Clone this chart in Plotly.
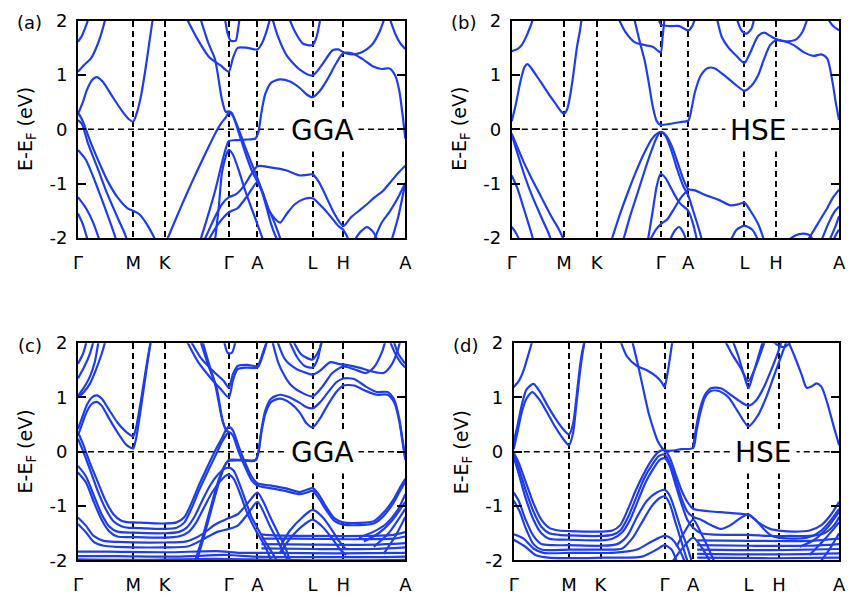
import plotly.graph_objects as go

# ---------------- data ----------------
kpath_labels = ["Γ", "M", "K", "Γ", "A", "L", "H", "A"]
kticks_a = [0, 56, 88, 153, 182, 238, 269, 332]
kticks_b = [0, 53, 86, 151, 179, 236, 268, 332]
kticks_c = [0, 56, 88, 153, 182, 238, 269, 332]
kticks_d = [0, 56, 88, 153, 182, 238, 269, 330]
energy_ticks = [-2, -1, 0, 1, 2]
energy_labels = ["-2", "-1", "0", "1", "2"]
panel_tags = ["(a)", "(b)", "(c)", "(d)"]
method_tags = ["GGA", "HSE", "GGA", "HSE"]

bands_a = [
    [(0,1.61),(4,1.72),(8,1.9),(11,2.05)],
    [(0,1.06),(6,1.18),(13,1.3),(19,1.52),(24,1.78),(28,2.05)],
    [(0,0.28),(5,0.5),(9,0.72),(14,0.9),(19,0.96),(25,0.88),(35,0.6),(45,0.33),(52,0.18),(56,0.14),(60,0.32),(64,0.62),(68,1.05),(72,1.55),(76,2.05)],
    [(110,2.05),(120,1.7),(133,1.33),(145,1.17),(153,1.06),(157,1.3),(162,1.5),(172,1.5),(182,1.47),(187,1.6),(192,1.85),(195,2.05)],
    [(149,2.05),(152,1.75),(155,1.63),(160,1.63),(162,1.8),(164,2.05)],
    [(124,2.05),(132,1.6),(139,1.29),(146,0.55),(150,0.32),(153,0.33),(156,0.3),(162,0.0),(170,-0.45),(176,-0.75),(182,-0.97),(186,-1.12),(191,-1.42),(196,-1.75),(200,-1.95),(203,-2.05)],
    [(124,-2.05),(130,-1.7),(139,-1.14),(146,-0.62),(150,-0.35),(153,-0.22),(160,-0.2),(170,-0.19),(180,-0.17),(183,-0.05),(186,0.3),(190,0.65),(196,0.86),(205,0.92),(215,0.88),(225,0.76),(232,0.64),(238,0.59),(245,0.7),(253,0.92),(262,1.22),(269,1.4),(278,1.4),(288,1.3),(300,1.15),(308,1.11),(316,1.12),(322,0.98),(326,0.7),(329,0.3),(332,-0.17)],
    [(197,2.05),(203,1.7),(212,1.35),(225,1.1),(238,0.99),(248,1.2),(258,1.45),(264,1.47),(269,1.42),(278,1.38),(288,1.42),(298,1.55),(306,1.8),(311,2.05)],
    [(214,2.05),(220,1.8),(228,1.58),(238,1.55),(242,1.7),(246,2.05)],
    [(316,2.05),(322,1.75),(327,1.58),(332,1.48)],
    [(0,0.3),(3,0.22),(6,0.1),(12,-0.2),(20,-0.55),(30,-0.95),(40,-1.25),(50,-1.45),(56,-1.5),(62,-1.56),(70,-1.75),(79,-2.05)],
    [(0,0.17),(4,0.1),(10,-0.25),(20,-0.72),(30,-1.2),(40,-1.62),(47,-1.9),(50,-2.05)],
    [(0,-0.38),(8,-0.56),(16,-0.9),(26,-1.38),(34,-1.78),(39,-2.05)],
    [(0,-1.25),(8,-1.45),(15,-1.7),(22,-2.05)],
    [(0,-1.55),(5,-1.75),(10,-2.05)],
    [(90,-2.05),(100,-1.62),(110,-1.2),(120,-0.8),(130,-0.42),(140,-0.05),(146,0.13),(150,0.22),(153,0.31),(157,0.25),(162,0.05),(168,-0.25),(175,-0.58),(182,-0.9),(188,-1.2),(194,-1.5),(200,-1.65),(205,-1.72),(212,-1.55),(220,-1.38),(230,-1.28),(238,-1.27),(246,-1.4),(256,-1.6),(264,-1.78),(269,-1.85),(275,-2.05)],
    [(139,-2.05),(143,-1.4),(146,-0.8),(150,-0.5),(153,-0.38),(157,-0.46),(163,-0.75),(170,-1.15),(178,-1.55),(185,-1.9),(188,-2.05)],
    [(128,-2.05),(138,-1.65),(146,-1.38),(153,-1.25),(160,-1.2),(168,-1.05),(176,-0.82),(182,-0.68),(195,-0.7),(210,-0.75),(225,-0.85),(232,-0.84),(238,-0.83),(244,-0.96),(252,-1.25),(260,-1.55),(269,-1.78),(277,-1.62),(285,-1.5),(293,-1.38),(301,-1.25),(309,-1.14),(318,-0.95),(325,-0.8),(332,-0.67)],
    [(132,-2.05),(142,-1.75),(153,-1.53),(162,-1.45),(172,-1.22),(182,-0.97),(187,-1.15),(193,-1.45),(200,-1.75),(206,-2.05)],
    [(300,-2.05),(308,-1.72),(316,-1.52),(324,-1.28),(332,-0.99)],
    [(318,-2.05),(325,-1.6),(332,-0.99)],
    [(280,-2.05),(287,-1.88),(293,-1.8),(299,-1.88),(304,-2.05)],
]

bands_b = [
    [(0,1.44),(6,1.48),(10,1.55),(15,1.72),(19,1.9),(22,2.05)],
    [(0,0.15),(4,0.45),(9,0.9),(13,1.15),(16,1.2),(20,1.12),(29,0.88),(37,0.66),(44,0.48),(50,0.33),(53,0.29),(56,0.36),(59,0.6),(62,0.95),(66,1.5),(69,1.8),(71,2.05)],
    [(0,-0.08),(5,-0.3),(12,-0.6),(20,-0.9),(30,-1.25),(40,-1.6),(48,-1.85),(53,-2.05)],
    [(0,-0.1),(5,-0.4),(12,-0.8),(20,-1.2),(30,-1.62),(37,-1.9),(40,-2.05)],
    [(0,-0.85),(6,-1.1),(12,-1.45),(18,-1.8),(22,-2.05)],
    [(0,-1.8),(4,-1.9),(8,-2.05)],
    [(101,-2.05),(110,-1.55),(118,-1.15),(126,-0.78),(134,-0.45),(142,-0.18),(148,-0.07),(151,-0.05),(156,-0.12),(162,-0.4),(168,-0.75),(174,-1.05),(179,-1.22),(184,-1.5),(190,-1.85),(193,-2.05)],
    [(113,-2.05),(120,-1.6),(128,-1.15),(135,-0.75),(142,-0.38),(147,-0.15),(151,-0.05),(156,-0.1),(162,-0.3),(168,-0.6),(174,-0.92),(179,-1.1),(185,-1.12),(195,-1.2),(210,-1.3),(222,-1.4),(230,-1.38),(236,-1.35),(242,-1.5),(250,-1.75),(256,-2.05)],
    [(138,-2.05),(143,-1.5),(147,-1.05),(151,-0.82),(156,-0.9),(162,-1.1),(170,-1.35),(179,-1.5),(184,-1.75),(188,-2.05)],
    [(140,-2.05),(146,-1.85),(151,-1.75),(158,-1.65),(165,-1.45),(172,-1.25),(179,-1.11)],
    [(160,-2.05),(166,-1.85),(170,-1.8),(174,-1.9),(177,-2.05)],
    [(124,2.05),(130,1.6),(135,1.25),(139,0.85),(143,0.42),(147,0.15),(151,0.08),(160,0.1),(170,0.13),(179,0.16),(182,0.35),(186,0.7),(192,1.0),(199,1.13),(206,1.12),(215,1.0),(225,0.85),(236,0.71),(243,0.8),(250,1.0),(256,1.3),(262,1.55),(268,1.64),(276,1.62),(286,1.55),(296,1.42),(306,1.35),(314,1.38),(320,1.3),(325,0.9),(329,0.45),(332,0.17)],
    [(208,2.05),(213,1.7),(220,1.5),(228,1.35),(236,1.22),(242,1.42),(250,1.72),(256,1.78),(262,1.72),(268,1.66),(278,1.62),(288,1.65),(295,1.8),(300,2.05)],
    [(320,2.05),(326,1.9),(332,1.82)],
    [(228,2.05),(233,1.82),(238,1.76),(243,1.85),(246,2.05)],
    [(108,2.05),(115,1.8),(125,1.6),(135,1.55),(143,1.52),(148,1.45),(151,1.41),(153,1.7),(155,2.05)],
    [(149,2.05),(151,1.93),(160,1.9),(170,1.9),(179,1.82),(183,1.9),(186,2.05)],
    [(222,-2.05),(228,-1.85),(236,-1.78),(244,-1.85),(250,-2.05)],
    [(280,-2.05),(288,-1.95),(296,-1.92),(302,-1.95),(306,-2.05)],
    [(300,-2.05),(310,-1.75),(320,-1.45),(326,-1.25),(332,-1.11)],
    [(314,-2.05),(322,-1.7),(328,-1.5),(332,-1.42)],
    [(322,-2.05),(328,-1.8),(332,-1.6)],
    [(326,-2.05),(330,-1.9),(332,-1.85)],
]

bands_c = [
    [(0,1.62),(5,1.8),(9,2.05)],
    [(0,1.35),(6,1.55),(12,1.8),(16,2.05)],
    [(0,1.0),(6,1.1),(12,1.25),(18,1.5),(24,1.8),(28,2.05)],
    [(0,1.03),(6,1.18),(12,1.38),(17,1.65),(21,2.05)],
    [(0,0.42),(4,0.62),(9,0.86),(14,1.0),(19,1.04),(24,0.98),(32,0.76),(40,0.54),(48,0.38),(53,0.31),(56,0.28),(59,0.45),(63,0.85),(67,1.3),(71,1.75),(74,2.05)],
    [(0,0.3),(4,0.5),(9,0.74),(14,0.88),(19,0.92),(24,0.85),(32,0.6),(40,0.36),(48,0.15),(53,0.08),(56,0.06),(59,0.25),(63,0.7),(67,1.2),(71,1.7),(74,2.05)],
    [(124,2.05),(132,1.6),(139,1.25),(146,0.62),(150,0.42),(153,0.46)],
    [(126,2.05),(134,1.55),(141,1.15),(147,0.55),(151,0.38),(153,0.37)],
    [(110,2.05),(122,1.65),(135,1.35),(145,1.15),(153,1.0),(157,1.3),(162,1.52),(172,1.55),(182,1.55),(187,1.75),(192,2.05)],
    [(114,2.05),(125,1.72),(138,1.47),(148,1.3),(153,1.18),(157,1.42),(162,1.58),(172,1.6),(182,1.58),(188,1.85),(192,2.05)],
    [(148,2.05),(152,1.82),(156,1.82),(160,2.05)],
    [(118,-2.05),(126,-1.6),(135,-1.0),(143,-0.5),(149,-0.25),(153,-0.15),(165,-0.15),(180,-0.15),(183,-0.02),(186,0.35),(190,0.7),(196,0.92),(205,0.98),(215,0.9),(225,0.72),(232,0.52),(238,0.45),(245,0.6),(253,0.85),(262,1.1),(269,1.22),(280,1.22),(292,1.12),(303,1.05),(314,1.05),(321,0.9),(326,0.55),(329,0.2),(332,-0.15)],
    [(120,-2.05),(128,-1.55),(137,-0.95),(145,-0.45),(150,-0.22),(153,-0.17),(165,-0.16),(180,-0.16),(183,0.0),(186,0.4),(190,0.76),(196,0.98),(205,1.05),(215,1.0),(225,0.9),(232,0.82),(238,0.8),(245,0.9),(253,1.08),(262,1.28),(269,1.35),(280,1.34),(292,1.2),(303,1.1),(314,1.1),(321,0.95),(326,0.6),(329,0.25),(332,-0.12)],
    [(197,2.05),(204,1.6),(215,1.25),(228,1.08),(238,1.02),(248,1.2),(258,1.45),(269,1.57),(280,1.52),(292,1.45),(300,1.55),(308,1.82),(312,2.05)],
    [(202,2.05),(210,1.7),(222,1.52),(232,1.45),(238,1.42),(246,1.5),(256,1.65),(264,1.62),(272,1.6),(285,1.55),(298,1.48),(310,1.45),(318,1.6),(324,1.85),(327,2.05)],
    [(214,2.05),(222,1.75),(230,1.58),(238,1.55),(243,1.7),(247,2.05)],
    [(218,2.05),(226,1.8),(233,1.72),(238,1.7),(244,1.85),(248,2.05)],
    [(316,2.05),(322,1.8),(327,1.65),(332,1.55)],
    [(320,2.05),(325,1.8),(332,1.62)],
    [(0,0.36),(5,0.15),(12,-0.2),(20,-0.55),(28,-0.9),(36,-1.15),(44,-1.27),(52,-1.3),(56,-1.3),(70,-1.31),(88,-1.32),(100,-1.3),(108,-1.2),(115,-0.95),(123,-0.6),(132,-0.25),(140,0.05),(146,0.25),(150,0.4),(153,0.46),(157,0.4),(163,0.1),(170,-0.22),(176,-0.45),(182,-0.58),(195,-0.62),(210,-0.67),(225,-0.74),(232,-0.7),(238,-0.67),(244,-0.78),(252,-1.02),(260,-1.22),(269,-1.3),(285,-1.31),(300,-1.28),(310,-1.12),(320,-0.88),(326,-0.68),(332,-0.5)],
    [(0,0.24),(5,0.02),(12,-0.32),(20,-0.72),(28,-1.05),(36,-1.28),(44,-1.37),(52,-1.4),(56,-1.4),(70,-1.41),(88,-1.42),(100,-1.4),(108,-1.3),(115,-1.05),(123,-0.7),(132,-0.35),(140,-0.05),(146,0.18),(150,0.3),(153,0.36),(157,0.3),(163,0.0),(170,-0.3),(176,-0.52),(182,-0.62),(195,-0.67),(210,-0.72),(225,-0.78),(232,-0.75),(238,-0.72),(244,-0.85),(252,-1.08),(260,-1.27),(269,-1.34),(285,-1.35),(300,-1.32),(310,-1.18),(320,-0.94),(326,-0.74),(332,-0.55)],
    [(0,-0.26),(8,-0.45),(16,-0.8),(24,-1.15),(32,-1.38),(40,-1.47),(56,-1.49),(88,-1.5),(102,-1.48),(110,-1.4),(118,-1.2),(126,-0.9),(134,-0.62),(142,-0.42),(148,-0.32),(153,-0.29),(158,-0.35),(164,-0.6),(170,-0.9),(176,-1.2),(182,-1.4),(188,-1.6),(195,-1.8),(200,-1.95),(203,-2.05)],
    [(0,-0.38),(8,-0.56),(16,-0.92),(24,-1.25),(32,-1.47),(40,-1.56),(56,-1.57),(88,-1.58),(102,-1.56),(112,-1.48),(120,-1.3),(128,-1.02),(136,-0.75),(144,-0.55),(150,-0.44),(153,-0.42),(158,-0.5),(164,-0.75),(170,-1.05),(176,-1.3),(182,-1.5),(190,-1.75),(197,-2.05)],
    [(0,-1.21),(8,-1.36),(16,-1.55),(26,-1.64),(40,-1.66),(88,-1.67),(110,-1.65),(125,-1.53),(140,-1.33),(153,-1.22),(162,-1.15),(172,-0.95),(182,-0.75),(188,-0.92),(195,-1.2),(203,-1.5),(210,-1.75),(216,-2.05)],
    [(0,-1.33),(8,-1.48),(16,-1.66),(26,-1.73),(40,-1.75),(88,-1.76),(112,-1.74),(128,-1.6),(142,-1.47),(153,-1.42),(162,-1.36),(172,-1.15),(182,-0.92),(188,-1.1),(195,-1.38),(203,-1.65),(210,-1.9),(214,-2.05)],
    [(205,-1.75),(215,-1.45),(228,-1.2),(238,-1.07),(248,-1.2),(258,-1.45),(265,-1.65),(272,-1.8)],
    [(205,-1.85),(215,-1.6),(228,-1.36),(238,-1.25),(248,-1.38),(258,-1.6),(266,-1.8),(272,-1.9)],
    [(285,-1.58),(300,-1.47),(313,-1.32),(324,-1.08),(332,-0.78)],
    [(290,-1.65),(305,-1.5),(318,-1.28),(332,-0.92)],
    [(300,-1.75),(315,-1.5),(332,-1.05)],
    [(310,-1.88),(322,-1.55),(332,-1.2)],
    [(186,-1.52),(200,-1.54),(240,-1.55),(290,-1.55),(320,-1.53),(332,-1.48)],
    [(186,-1.6),(220,-1.6),(280,-1.61),(320,-1.6),(332,-1.56)],
    [(186,-1.7),(240,-1.71),(300,-1.71),(332,-1.68)],
    [(186,-1.78),(240,-1.79),(300,-1.79),(332,-1.76)],
    [(0,-1.84),(30,-1.84),(90,-1.85),(140,-1.83),(165,-1.86),(200,-1.86),(260,-1.87),(332,-1.86)],
    [(0,-1.92),(40,-1.92),(100,-1.93),(150,-1.9),(180,-1.93),(240,-1.94),(300,-1.94),(332,-1.93)],
    [(0,-1.98),(60,-1.99),(140,-1.97),(200,-1.99),(280,-2.0),(332,-1.99)],
]

bands_d = [
    [(0,1.19),(5,1.3),(10,1.5),(15,1.8),(19,2.05)],
    [(0,0.18),(4,0.5),(8,0.85),(13,1.15),(20,1.25),(26,1.12),(34,0.86),(42,0.62),(50,0.42),(56,0.32),(60,0.5),(63,0.9),(66,1.4),(69,1.8),(72,2.05)],
    [(0,0.05),(4,0.38),(8,0.72),(13,0.98),(19,1.1),(26,0.96),(34,0.72),(42,0.46),(50,0.24),(56,0.12),(60,0.33),(63,0.78),(66,1.28),(69,1.72),(72,2.05)],
    [(108,2.05),(115,1.75),(125,1.58),(135,1.5),(145,1.38),(150,1.28),(153,1.19),(156,1.45),(159,1.8),(161,2.05)],
    [(120,2.05),(126,1.6),(132,1.1),(137,0.7),(142,0.4),(146,0.2),(150,0.08),(153,0.03),(160,0.02),(170,0.05),(182,0.07),(185,0.35),(189,0.7),(194,1.0),(200,1.12),(208,1.12),(218,1.0),(228,0.72),(238,0.47),(248,0.68),(256,1.0),(262,1.3),(268,1.6),(273,1.85),(277,2.05)],
    [(182,0.1),(185,0.45),(189,0.8),(194,1.05),(200,1.17),(210,1.17),(220,1.05),(230,0.92),(238,0.85),(246,0.95),(254,1.2),(261,1.5),(267,1.78),(272,2.05)],
    [(222,2.05),(228,1.75),(234,1.38),(238,1.17),(242,1.38),(248,1.75),(253,2.05)],
    [(214,2.05),(222,1.78),(230,1.55),(238,1.3),(245,1.55),(252,1.9),(255,2.05)],
    [(278,2.05),(285,1.75),(292,1.42),(297,1.18),(302,1.2),(307,1.26),(312,1.2),(318,0.9),(324,0.5),(330,0.12)],
    [(262,2.05),(268,1.96),(275,1.93),(282,2.05)],
    [(0,-0.02),(5,-0.2),(12,-0.55),(20,-0.95),(28,-1.25),(36,-1.4),(46,-1.45),(56,-1.46),(88,-1.47),(100,-1.45),(108,-1.35),(116,-1.05),(124,-0.7),(132,-0.4),(140,-0.15),(147,0.0),(153,0.03),(158,-0.1),(164,-0.4),(170,-0.7),(176,-0.92),(182,-1.05),(190,-1.08),(200,-1.1),(215,-1.12),(228,-1.14),(238,-1.16),(248,-1.3),(260,-1.42),(269,-1.45),(285,-1.47),(300,-1.45),(312,-1.35),(322,-1.15),(330,-0.92)],
    [(0,-0.05),(5,-0.3),(12,-0.7),(20,-1.1),(28,-1.38),(36,-1.5),(46,-1.53),(56,-1.54),(88,-1.55),(100,-1.53),(108,-1.45),(116,-1.2),(124,-0.85),(132,-0.5),(140,-0.25),(147,-0.08),(153,-0.05),(158,-0.2),(164,-0.5),(170,-0.85),(176,-1.1),(182,-1.2),(190,-1.25),(200,-1.35),(210,-1.42),(220,-1.35),(230,-1.22),(238,-1.15),(245,-1.25),(255,-1.45),(262,-1.55),(269,-1.58),(285,-1.6),(300,-1.57),(312,-1.45),(322,-1.25),(330,-1.05)],
    [(0,-0.1),(5,-0.4),(12,-0.85),(20,-1.25),(28,-1.5),(36,-1.6),(56,-1.62),(88,-1.63),(100,-1.6),(110,-1.48),(118,-1.25),(126,-0.9),(134,-0.55),(142,-0.3),(148,-0.15),(153,-0.12),(158,-0.25),(164,-0.6),(170,-0.95),(176,-1.25),(182,-1.4),(190,-1.5),(200,-1.52),(220,-1.53),(238,-1.53),(260,-1.55),(280,-1.55),(300,-1.55),(315,-1.5),(325,-1.35),(330,-1.2)],
    [(0,-0.75),(5,-0.9),(12,-1.25),(20,-1.55),(28,-1.7),(40,-1.72),(56,-1.72),(88,-1.73),(105,-1.7),(115,-1.55),(125,-1.2),(135,-0.9),(145,-0.75),(153,-0.7),(158,-0.8),(164,-1.1),(170,-1.45),(176,-1.75),(181,-2.05)],
    [(0,-0.9),(6,-1.1),(12,-1.4),(20,-1.7),(28,-1.8),(56,-1.8),(88,-1.8),(110,-1.78),(120,-1.6),(130,-1.3),(140,-1.0),(148,-0.85),(153,-0.82),(158,-0.95),(164,-1.3),(170,-1.65),(175,-1.95),(177,-2.05)],
    [(0,-1.52),(10,-1.6),(20,-1.78),(30,-1.86),(60,-1.86),(100,-1.86),(125,-1.8),(140,-1.65),(153,-1.55),(160,-1.6),(168,-1.8),(174,-2.05)],
    [(0,-1.62),(12,-1.75),(22,-1.9),(35,-1.95),(90,-1.95),(130,-1.93),(145,-1.8),(153,-1.72),(160,-1.8),(166,-2.05)],
    [(165,-1.75),(174,-1.45),(182,-1.25),(190,-1.5),(198,-1.8),(204,-2.05)],
    [(160,-2.05),(170,-1.8),(182,-1.58),(192,-1.8),(200,-2.05)],
    [(186,-1.63),(240,-1.64),(300,-1.64),(330,-1.6)],
    [(186,-1.72),(240,-1.73),(300,-1.73),(330,-1.7)],
    [(186,-1.8),(260,-1.81),(330,-1.79)],
    [(186,-1.88),(260,-1.89),(330,-1.87)],
    [(186,-1.95),(260,-1.96),(330,-1.95)],
    [(290,-1.75),(305,-1.62),(318,-1.4),(330,-1.1)],
    [(300,-1.9),(315,-1.62),(330,-1.3)],
    [(310,-2.05),(320,-1.8),(330,-1.5)],
]

# ---------------- layout geometry ----------------
W, H = 854, 610
panels = [
    dict(bands=bands_a, ticks=kticks_a, x0=74, x1=406, y0=10, y1=235, lab_k=248),
    dict(bands=bands_b, ticks=kticks_b, x0=514, x1=846, y0=10, y1=235, lab_k=250),
    dict(bands=bands_c, ticks=kticks_c, x0=74, x1=406, y0=344, y1=569, lab_k=248),
    dict(bands=bands_d, ticks=kticks_d, x0=516, x1=846, y0=344, y1=569, lab_k=253),
]

BLUE = "#1f3ded"
FONT = "DejaVu Sans"
fig = go.Figure()
layout = dict(width=W, height=H, margin=dict(l=0, r=0, t=0, b=0),
              paper_bgcolor="white", plot_bgcolor="white", showlegend=False,
              font=dict(family=FONT, size=18, color="black"))
shapes, annotations = [], []

for i, p in enumerate(panels):
    n = "" if i == 0 else str(i + 1)
    xa, ya = "x" + n, "y" + n
    for band in p["bands"]:
        fig.add_trace(go.Scatter(
            x=[pt[0] for pt in band], y=[pt[1] for pt in band],
            mode="lines", line=dict(color=BLUE, width=2.2, shape="spline", smoothing=0.7),
            xaxis=xa, yaxis=ya, hoverinfo="skip"))
    layout["xaxis" + n] = dict(
        domain=[p["x0"] / W, p["x1"] / W], anchor=ya,
        range=[p["ticks"][0], p["ticks"][-1]],
        tickmode="array", tickvals=p["ticks"], ticktext=kpath_labels,
        ticks="", showgrid=True, gridcolor="black", gridwidth=1.5, griddash="6px,4px",
        showline=True, linecolor="black", linewidth=2, mirror=True,
        zeroline=False, tickfont=dict(size=18, family=FONT), ticklabelstandoff=7)
    layout["yaxis" + n] = dict(
        domain=[1 - p["y1"] / H, 1 - p["y0"] / H], anchor=xa,
        range=[-2, 2], tickmode="array", tickvals=energy_ticks, ticktext=energy_labels,
        ticks="inside", ticklen=8, tickwidth=1.5, tickcolor="black",
        showgrid=False, zeroline=False,
        showline=True, linecolor="black", linewidth=2, mirror="ticks",
        tickfont=dict(size=18, family=FONT), ticklabelstandoff=5)
    shapes.append(dict(type="line", xref=xa, yref=ya, x0=p["ticks"][0], x1=p["ticks"][-1],
                       y0=0, y1=0, layer="below",
                       line=dict(color="black", width=1.5, dash="6px,4px")))
    annotations.append(dict(xref=xa, yref=ya, x=p["lab_k"], y=-0.02, text=method_tags[i],
                            showarrow=False, bgcolor="white", borderpad=4,
                            font=dict(size=28, family=FONT, color="black")))
    annotations.append(dict(xref="paper", yref="paper", x=(p["x0"] - 49) / W,
                            y=1 - (p["y0"] + 2) / H, text=panel_tags[i], showarrow=False,
                            xanchor="center", yanchor="middle",
                            font=dict(size=18, family=FONT)))
    annotations.append(dict(xref="paper", yref="paper", x=(p["x0"] - 52) / W,
                            y=1 - (p["y0"] + p["y1"]) / 2 / H,
                            text="E-E<sub>F</sub> (eV)", textangle=-90, showarrow=False,
                            xanchor="center", yanchor="middle",
                            font=dict(size=19, family=FONT)))

layout["shapes"] = shapes
layout["annotations"] = annotations
fig.update_layout(**layout)
fig.write_html("out.html")
